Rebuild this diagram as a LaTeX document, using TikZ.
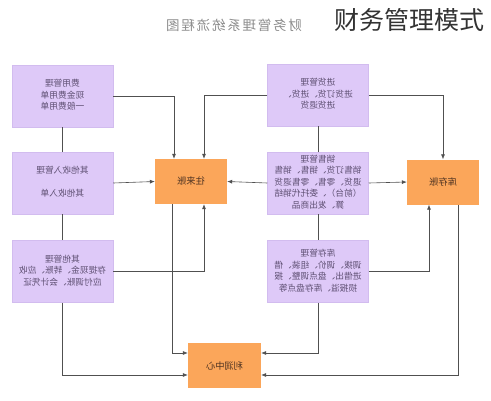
\documentclass[tikz,border=0pt]{standalone}
\usepackage{fontspec}
\usepackage{graphicx}
\usetikzlibrary{arrows.meta}
\newfontfamily\cjk{Noto Sans CJK SC}
\newfontfamily\cjktitle[LetterSpace=13]{Noto Sans CJK SC}
\definecolor{boxpurple}{HTML}{DEC9F8}
\definecolor{boxpurpleedge}{HTML}{D2BCEF}
\definecolor{boxorange}{HTML}{FBA65A}
\definecolor{txtpurple}{HTML}{5E4F72}
\definecolor{txtorange}{HTML}{4A3020}
\definecolor{linegray}{HTML}{505050}
\newcommand{\mtext}[1]{\reflectbox{\begin{tabular}{@{}c@{}}#1\end{tabular}}}
\begin{document}
\begin{tikzpicture}[x=1pt,y=-1pt,
  modbox/.style={draw=boxpurpleedge, line width=0.5pt, fill=boxpurple,
    minimum width=101pt, minimum height=62pt, inner sep=0pt,
    font=\cjk\fontsize{8.7}{11.6}\selectfont, text=txtpurple},
  accbox/.style={fill=boxorange, draw=none,
    minimum width=72pt, minimum height=45pt, inner sep=0pt,
    font=\cjk\fontsize{9.2}{11}\selectfont, text=txtorange},
  link/.style={draw=linegray, line width=0.6pt},
  arr/.style={link, -{Latex[length=5pt,width=4pt]}}]
\useasboundingbox (0,0) rectangle (491,400);
\fill[white] (0,0) rectangle (491,400);

% titles
\node[font=\cjktitle\fontsize{13.5}{14}\selectfont, text=black!45] (ttl) at (234,25) {\reflectbox{财务管理系统流程图}};
\node[font=\cjk\fontsize{25}{27}\selectfont, text=black!80, anchor=east] (ttr) at (488,20) {财务管理模式};

% purple module boxes (text mirrored as in the reference)
\node[modbox] (ft) at (62.5,96) {\mtext{费用管理\\现金费用单\\一般费用单}};
\node[modbox] (qt) at (62.5,183) {\mtext{其他收入管理\\[11.6pt]其他收入单}};
\node[modbox] (qg) at (62.5,271.5) {\mtext{其他管理\\存提现金、转账、应收\\应付调账、会计凭证}};
\node[modbox] (jh) at (318,95) {\mtext{进货管理\\进货订货、进货、\\进货退货}};
\node[modbox] (xs) at (318,183) {\mtext{销售管理\\销售订货、销售、销售\\退货、零售、零售退货\\（前台）、委托代销结\\算、发出商品}};
\node[modbox] (kc) at (318,271.5) {\mtext{库存管理\\调拨、调价、组装、借\\进借出、盘点调整、报\\损报溢、库存盘点等}};

% orange account boxes
\node[accbox] (wl) at (191,181.5) {\reflectbox{往来账}};
\node[accbox] (kz) at (443,182) {\reflectbox{库存账}};
\node[accbox, minimum width=73pt] (lr) at (224.5,365.5) {\reflectbox{利润中心}};

% helper coordinates
\coordinate (wlTL) at ([xshift=-17pt]wl.north);
\coordinate (wlTR) at ([xshift=13pt]wl.north);
\coordinate (wlBL) at ([xshift=-19pt]wl.south);
\coordinate (wlBR) at ([xshift=13pt]wl.south);
\coordinate (kzBL) at ([xshift=-14pt]kz.south);
\coordinate (kzBR) at ([xshift=15pt]kz.south);
\coordinate (lrWU) at ([yshift=12.5pt]lr.west);
\coordinate (lrWD) at ([yshift=-9.5pt]lr.west);
\coordinate (lrEU) at ([yshift=12.5pt]lr.east);
\coordinate (lrED) at ([yshift=-9.5pt]lr.east);

% connectors to 往来账
\draw[arr] (ft.east) -| (wlTL);
\draw[arr] (jh.west) -| (wlTR);
\draw[arr] (qt.east) -- (wl.west);
\draw[arr] (xs.west) -- (wl.east);
\draw[arr] (qg.east) -| (wlBR);

% connectors to 库存账
\draw[arr] (jh.east) -| (kz.north);
\draw[arr] (xs.east) -- (kz.west);
\draw[arr] (kc.east) -| (kzBL);

% vertical chains
\draw[link] (ft.south) -- (qt.north);
\draw[link] (qt.south) -- (qg.north);
\draw[link] (jh.south) -- (xs.north);
\draw[link] (xs.south) -- (kc.north);

% connectors to 利润中心
\draw[arr] (wlBL) |- (lrWU);
\draw[arr] (qg.south) |- (lrWD);
\draw[arr] (kc.south) |- (lrEU);
\draw[arr] (kzBR) |- (lrED);
\end{tikzpicture}
\end{document}
